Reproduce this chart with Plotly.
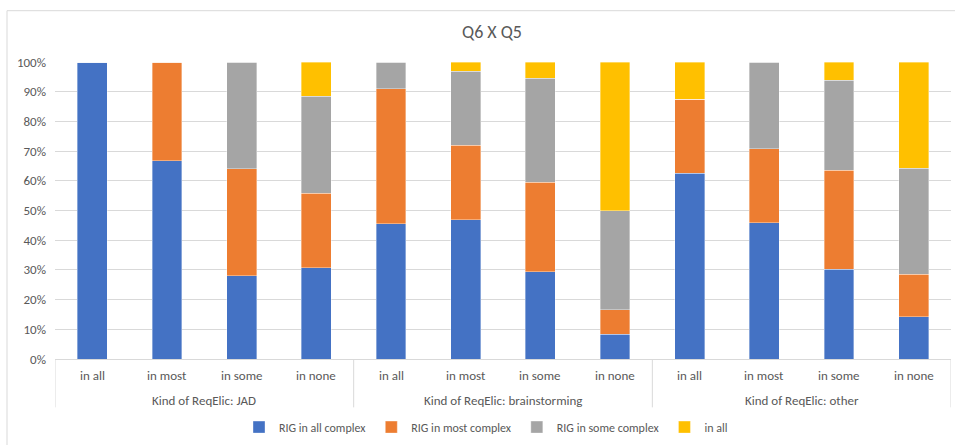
import plotly.graph_objects as go

groups = ["Kind of ReqElic: JAD", "Kind of ReqElic: brainstorming", "Kind of ReqElic: other"]
cats = ["in all", "in most", "in some", "in none"]

series_names = ["RIG in all complex", "RIG in most complex", "RIG in some complex", "in all"]
rig_all = [1.000, 0.667, 0.280, 0.308, 0.455, 0.469, 0.294, 0.083, 0.625, 0.458, 0.303, 0.143]
rig_most = [0.000, 0.333, 0.360, 0.250, 0.455, 0.250, 0.301, 0.083, 0.250, 0.250, 0.333, 0.143]
rig_some = [0.000, 0.000, 0.360, 0.327, 0.090, 0.250, 0.350, 0.334, 0.000, 0.292, 0.303, 0.357]
in_all = [0.000, 0.000, 0.000, 0.115, 0.000, 0.031, 0.055, 0.500, 0.125, 0.000, 0.061, 0.357]
colors = ["#4472C4", "#ED7D31", "#A5A5A5", "#FFC000"]

x_groups = [g for g in groups for _ in cats]
x_cats = [c for _ in groups for c in cats]

FONT = "Calibri, Carlito, Lato, sans-serif"
TXT = "#595959"
GRID = "#d9d9d9"

fig = go.Figure()
for name, vals, col in zip(series_names, [rig_all, rig_most, rig_some, in_all], colors):
    fig.add_trace(go.Bar(
        x=[x_groups, x_cats], y=vals, name=name,
        marker=dict(color=col, line=dict(color="rgba(255,255,255,0.6)", width=0.6)),
    ))

W, H = 955, 445
L, R, T, B = 55, 4, 62, 82
pw = W - L - R
ph = H - T - B

def px_x(p):
    return (p - L) / pw

def px_y(p):
    return (H - B - p) / ph

n = len(x_cats)
fig.update_layout(
    width=W, height=H,
    margin=dict(l=L, r=R, t=T, b=B),
    barmode="stack", bargap=0.6,
    paper_bgcolor="white", plot_bgcolor="white",
    font=dict(family=FONT, size=13, color=TXT),
    title=dict(text="Q6 X Q5", x=492 / W, xanchor="center", y=1 - 32 / H, yanchor="middle",
               font=dict(family=FONT, size=18, color=TXT)),
    legend=dict(orientation="h", x=px_x(486), xanchor="center", y=px_y(432), yanchor="middle",
                font=dict(family=FONT, size=12, color=TXT), traceorder="normal",
                itemwidth=30),
    showlegend=True,
)
fig.update_xaxes(
    type="multicategory", showline=True, linecolor=GRID, linewidth=1,
    showgrid=False, showdividers=False, showticklabels=False, ticks="",
    range=[-0.5, n - 0.5],
)
fig.update_yaxes(
    range=[0, 1], dtick=0.1, tickformat=".0%", showgrid=True, gridcolor=GRID,
    gridwidth=1, zeroline=False, showline=False, ticks="", ticklabelstandoff=8,
    tickfont=dict(family=FONT, size=13, color=TXT), fixedrange=True,
)

# category labels (first level)
for i, c in enumerate(x_cats):
    fig.add_annotation(x=i, xref="x", y=px_y(380), yref="paper", text=c, showarrow=False,
                       xanchor="center", yanchor="middle",
                       font=dict(family=FONT, size=13, color=TXT))
# group labels (second level) and dividers
k = len(cats)
for gi, g in enumerate(groups):
    fig.add_annotation(x=gi * k + (k - 1) / 2, xref="x", y=px_y(405), yref="paper", text=g,
                       showarrow=False, xanchor="center", yanchor="middle",
                       font=dict(family=FONT, size=13, color=TXT))
for gi in range(len(groups) + 1):
    fig.add_shape(type="line", xref="x", yref="paper", x0=gi * k - 0.5, x1=gi * k - 0.5,
                  y0=0, y1=px_y(412), line=dict(color=GRID, width=1))

fig.add_shape(type="rect", xref="paper", yref="paper",
              x0=px_x(7), x1=px_x(962), y0=px_y(452), y1=px_y(10),
              line=dict(color=GRID, width=1), fillcolor="rgba(0,0,0,0)", layer="below")

fig.write_html("out.html")
